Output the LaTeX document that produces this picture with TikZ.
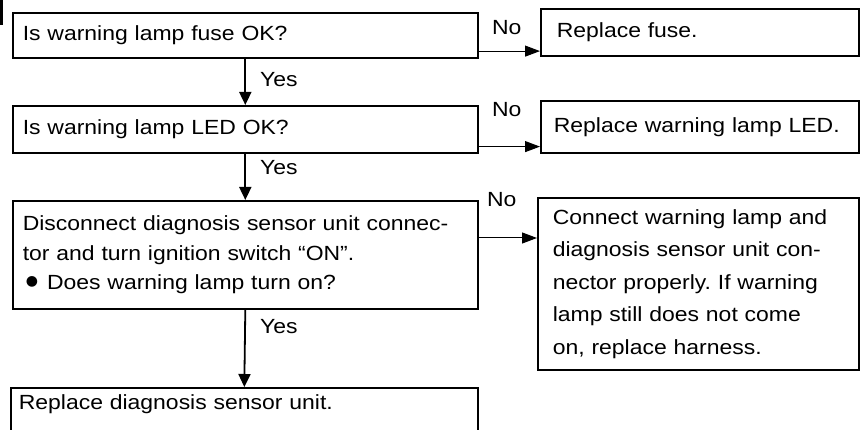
\documentclass[tikz,border=0pt]{standalone}
\usepackage{fontspec}
\setmainfont{Liberation Sans}[FakeStretch=1.12]
\newfontfamily\symfont{DejaVu Sans}
\usetikzlibrary{arrows.meta,calc}
\begin{document}
\frenchspacing
\begin{tikzpicture}[x=1pt,y=-1pt,
  box/.style={draw, line width=1.6pt, rectangle, anchor=north west, inner ysep=0pt, align=left,
    font=\fontsize{20.5}{29.5}\selectfont},
  lbl/.style={inner sep=0pt, anchor=base west, font=\fontsize{20.5}{24}\selectfont},
  varr/.style={line width=1.8pt, -{Triangle[width=12pt,length=13pt]}},
  harr/.style={line width=1pt, -{Triangle[width=11pt,length=15pt]}}
]
\useasboundingbox (0,0) rectangle (864,430);
\fill[white] (0,0) rectangle (864,430);
\clip (0,0) rectangle (864,430);

\draw[line width=3pt] (1.5,0) -- (1.5,25);

% left column
\node[box, minimum width=465pt, minimum height=45pt, inner xsep=10pt, text width=445pt] (b1) at (12,12)
  {Is warning lamp fuse OK?};
\node[box, minimum width=465pt, minimum height=47pt, inner xsep=10pt, text width=445pt] (b2) at (12,105)
  {Is warning lamp LED OK?};
\node[box, minimum width=465pt, minimum height=108pt, inner xsep=10pt, text width=445pt] (b3) at (12,200)
  {Disconnect diagnosis sensor unit connec-\\
   tor and turn ignition switch “ON”.\\
   \hspace*{3pt}\raisebox{4pt}{\symfont\fontsize{14}{14}\selectfont ●}\hspace{9pt}Does warning lamp turn on?};
\node[box, minimum width=467pt, minimum height=55pt, inner xsep=8pt, text width=451pt, text depth=25.7pt] (b4) at (10,387)
  {Replace diagnosis sensor unit.};

% right column
\node[box, minimum width=318pt, minimum height=47pt, inner xsep=16pt, text width=286pt] (rf) at (540,8)
  {Replace fuse.};
\node[box, minimum width=318pt, minimum height=52pt, inner xsep=13pt, text width=292pt] (rl) at (540,100)
  {Replace warning lamp LED.};
\node[box, minimum width=321pt, minimum height=172pt, inner xsep=15pt, text width=291pt,
      font=\fontsize{20.5}{32.5}\selectfont] (rc) at (537,197)
  {Connect warning lamp and\\
   diagnosis sensor unit con-\\
   nector properly. If warning\\
   lamp still does not come\\
   on, replace harness.};

% Yes connectors
\draw[varr] (b1.south) -- (b2.north)
  node[lbl, at start, xshift=14pt, yshift=-28pt] (y1) {Yes};
\draw[varr] (b2.south) -- (b3.north)
  node[lbl, at start, xshift=14pt, yshift=-21pt] (y2) {Yes};
\draw[varr] (b3.south) -- (b4.north)
  node[lbl, at start, xshift=14pt, yshift=-24pt] (y3) {Yes};

% No connectors
\coordinate (s1) at ([yshift=7.5pt]b1.south east);
\coordinate (s2) at ([yshift=7pt]b2.south east);
\coordinate (s3) at ([yshift=-38pt]b3.north east);
\draw[harr] (s1) -- (s1 -| rf.west)
  node[lbl, at start, xshift=13pt, yshift=17pt] (n1) {No};
\draw[harr] (s2) -- (s2 -| rl.west)
  node[lbl, at start, xshift=13pt, yshift=30pt] (n2) {No};
\draw[harr] (s3) -- (s3 -| rc.west)
  node[lbl, at start, xshift=8pt, yshift=31pt] (n3) {No};
\end{tikzpicture}
\end{document}
